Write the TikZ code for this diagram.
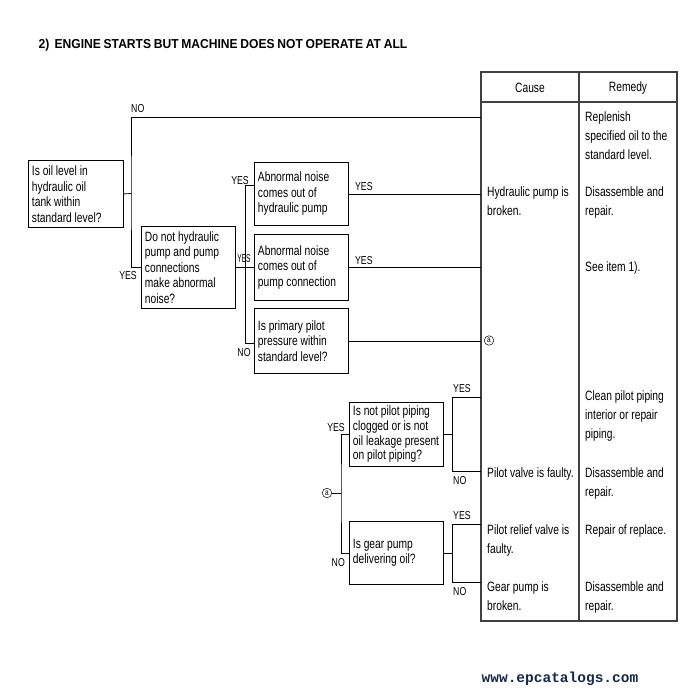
\documentclass[tikz,border=0pt]{standalone}
\usepackage{fontspec}
\setmainfont{Liberation Sans}[FakeStretch=0.76]
\newfontfamily\titlefont{Liberation Sans}[FakeStretch=0.93, WordSpace=0.8]
\newfontfamily\wwwfont{Liberation Mono}
\usetikzlibrary{positioning}
\definecolor{framegray}{gray}{0.25}
\definecolor{wwwblue}{RGB}{22,40,72}
\tikzset{
  qbox/.style={draw, line width=0.9pt, anchor=north west, align=flush left,
    inner xsep=3.5pt, inner ysep=2pt, font=\fontsize{13.5}{15.5}\selectfont},
  lbl/.style={font=\fontsize{11.5}{12}\selectfont, inner sep=1pt},
  cell/.style={anchor=north west, align=flush left, inner sep=0pt,
    font=\fontsize{13.5}{19}\selectfont},
  conn/.style={line width=0.8pt},
  frame/.style={draw=framegray, line width=1.1pt},
  circa/.style={circle, draw, line width=0.5pt, inner sep=1.3pt,
    font=\fontsize{8.5}{8.5}\selectfont},
}
\begin{document}
\begin{tikzpicture}[x=1pt, y=-1pt]
\useasboundingbox (0,0) rectangle (693,695);
\node[anchor=west, font=\titlefont\fontsize{13}{15}\selectfont\bfseries] (title) at (35,45)
  {2)~~ENGINE STARTS BUT MACHINE DOES NOT OPERATE AT ALL};
%
% table
\coordinate (tab nw) at (481,72);
\coordinate (tab se) at (677,621);
\coordinate (tab div) at (579,72);
\coordinate (hdr) at (481,102);
\draw[frame] (tab nw) rectangle (tab se);
\draw[frame, line width=1.5pt] (hdr) -- (hdr -| tab se);
\draw[frame] (tab div) -- (tab div |- tab se);
\node[font=\fontsize{13.5}{14}\selectfont] (cause) at (530,88) {Cause};
\node[font=\fontsize{13.5}{14}\selectfont] (remedy) at (628,88) {Remedy};
%
% questions
\node[qbox, minimum width=95, minimum height=67, text width=88] (q1) at (28,160)
  {Is oil level in\\hydraulic oil\\tank within\\standard level?};
\node[qbox, minimum width=94, minimum height=82, text width=87] (q2) at (141,226)
  {Do not hydraulic\\pump and pump\\connections\\make abnormal\\noise?};
\node[qbox, minimum width=94, minimum height=63, text width=87] (q3) at (254,162)
  {Abnormal noise\\comes out of\\hydraulic pump};
\node[qbox, minimum width=94, minimum height=66, text width=87] (q4) at (254,234)
  {Abnormal noise\\comes out of\\pump connection};
\node[qbox, minimum width=94, minimum height=65, text width=87] (q5) at (254,308)
  {Is primary pilot\\pressure within\\standard level?};
\node[qbox, minimum width=94, minimum height=64, text width=87, font=\fontsize{13.5}{14.7}\selectfont] (q6) at (349,402)
  {Is not pilot piping\\clogged or is not\\oil leakage present\\on pilot piping?};
\node[qbox, minimum width=94, minimum height=63, text width=87] (q7) at (349,521)
  {Is gear pump\\delivering oil?};
%
% oil level branch
\coordinate (no1) at (481,117);
\draw[conn] (q1.east) -- (131,193.5) coordinate (j1);
\draw[conn] (no1) -| (j1) |- (q2.west);
\node[lbl, anchor=south west] at ([xshift=-1pt, yshift=3pt]j1 |- no1) {NO};
\node[lbl, anchor=north] at ([xshift=-3pt, yshift=-3pt]j1 |- q2.west) {YES};
%
% noise branch
\coordinate (j2t) at (245,185);
\coordinate (j2b) at (245,343);
\draw[conn] (q2.east) -- (q2.east -| j2t);
\draw[conn] (q3.west |- j2t) -- (j2t) -- (j2b) -- (q5.west |- j2b);
\draw[conn] (q4.west) -- (q4.west -| j2t);
\node[lbl, anchor=east] at (250,181) {YES};
\node[lbl, anchor=south] at (244,264) {\scalebox{0.75}[1]{YES}};
\node[lbl, anchor=north] at (244,347) {NO};
%
\draw[conn] (q3.east) -- (q3.east -| tab nw);
\draw[conn] (q4.east) -- (q4.east -| tab nw);
\draw[conn] (q5.east) -- (q5.east -| tab nw);
\node[lbl, anchor=south west] at ([xshift=5pt, yshift=2pt]q3.east) {YES};
\node[lbl, anchor=south west] at ([xshift=5pt, yshift=2pt]q4.east) {YES};
%
% pilot branch
\node[circa] (ca) at (327,493) {a};
\coordinate (j3) at (341,493);
\draw[conn] (ca) -- (j3);
\draw[conn] (q6.west) -| (j3) |- (q7.west);
\node[lbl, anchor=south east] at ([xshift=5pt, yshift=2pt]j3 |- q6.west) {YES};
\node[lbl, anchor=north east] at ([xshift=5pt, yshift=-4pt]j3 |- q7.west) {NO};
%
\coordinate (j4t) at (452,397);
\coordinate (j4b) at (452,471);
\draw[conn] (q6.east) -- (q6.east -| j4t);
\draw[conn] (j4t -| tab nw) -- (j4t) -- (j4b) -- (j4b -| tab nw);
\node[lbl, anchor=south west] at ([yshift=3pt]j4t) {YES};
\node[lbl, anchor=north west] at ([yshift=-4pt]j4b) {NO};
%
\coordinate (j5t) at (452,524);
\coordinate (j5b) at (452,582);
\draw[conn] (q7.east) -- (q7.east -| j5t);
\draw[conn] (j5t -| tab nw) -- (j5t) -- (j5b) -- (j5b -| tab nw);
\node[lbl, anchor=south west] at ([yshift=3pt]j5t) {YES};
\node[lbl, anchor=north west] at ([yshift=-4pt]j5b) {NO};
%
% causes and remedies
\node[cell] (rem1) at (585,112) {Replenish\\specified oil to the\\standard level.};
\node[cell] (cause1) at (487,186.5) {Hydraulic pump is\\broken.};
\node[cell] (rem2) at (585,186.5) {Disassemble and\\repair.};
\node[cell] (rem3) at (585,261.5) {See item 1).};
\node[circa] (ca0) at (489,340.5) {a};
\node[cell] (rem4) at (585,390.5) {Clean pilot piping\\interior or repair\\piping.};
\node[cell] (cause4) at (487,467.5) {Pilot valve is faulty.};
\node[cell] (rem5) at (585,467.5) {Disassemble and\\repair.};
\node[cell] (cause6) at (487,524.5) {Pilot relief valve is\\faulty.};
\node[cell] (rem6) at (585,524.5) {Repair of replace.};
\node[cell] (cause7) at (487,581.5) {Gear pump is\\broken.};
\node[cell] (rem7) at (585,581.5) {Disassemble and\\repair.};
%
\node[font=\wwwfont\bfseries\fontsize{14.5}{16}\selectfont, text=wwwblue] (www) at (560,679) {www.epcatalogs.com};
\end{tikzpicture}
\end{document}
